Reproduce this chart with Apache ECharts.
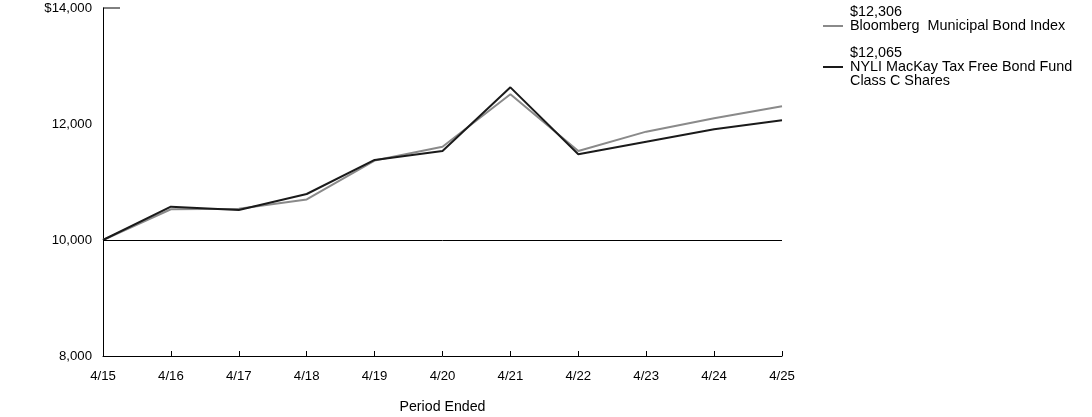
<!DOCTYPE html>
<html>
<head>
<meta charset="utf-8">
<script src="https://cdn.jsdelivr.net/npm/echarts@6/dist/echarts.min.js"></script>
<style>
html,body{margin:0;padding:0;background:#fff;}
#chart{width:1092px;height:417px;}
</style>
</head>
<body>
<div id="chart"></div>
<script>
var categories = ['4/15','4/16','4/17','4/18','4/19','4/20','4/21','4/22','4/23','4/24','4/25'];
var indexValues = [10000, 10530, 10540, 10700, 11370, 11609, 12512, 11534, 11868, 12098, 12306];
var fundValues  = [10000, 10574, 10517, 10793, 11380, 11534, 12632, 11477, 11695, 11908, 12065];
var indexName = 'Bloomberg  Municipal Bond Index';
var fundName = 'NYLI MacKay Tax Free Bond Fund\nClass C Shares';
var indexEnd = '$12,306';
var fundEnd = '$12,065';
var yTickLabels = {14000:'$14,000', 12000:'12,000', 10000:'10,000', 8000:'8,000'};

var FONT = 'Liberation Sans, Arial, sans-serif';
var chart = echarts.init(document.getElementById('chart'));
chart.setOption({
  animation: false,
  grid: {left: 103, right: 310, top: 8, bottom: 61, containLabel: false, outerBoundsMode: 'none'},
  legend: {
    orient: 'vertical',
    left: 823, top: 5, padding: 0,
    itemWidth: 20, itemHeight: 2, itemGap: -1,
    icon: 'rect',
    textStyle: {fontFamily: FONT, fontSize: 14.4, color: '#000', lineHeight: 14, padding: [0,0,0,2]},
    data: [indexName, fundName],
    formatter: function(name){
      if (name === indexName) return indexEnd + '\n' + indexName + '\n ';
      return fundEnd + '\n' + fundName;
    }
  },
  xAxis: {
    type: 'category',
    data: categories,
    boundaryGap: false,
    name: 'Period Ended',
    nameLocation: 'middle',
    nameGap: 44,
    nameTextStyle: {fontFamily: FONT, fontSize: 14.2, color: '#000'},
    axisLine: {lineStyle: {color: '#000', width: 1}},
    axisTick: {inside: true, length: 5, lineStyle: {color: '#000'}},
    axisLabel: {fontFamily: FONT, fontSize: 13.2, color: '#000', margin: 14},
    splitLine: {show: false}
  },
  yAxis: {
    type: 'value',
    min: 8000, max: 14000, interval: 2000,
    axisLine: {show: true, lineStyle: {color: '#000', width: 1}},
    axisTick: {show: false},
    splitLine: {show: false},
    axisLabel: {fontFamily: FONT, fontSize: 13.2, color: '#000', margin: 11,
      formatter: function(v){ return yTickLabels[v] || ''; }}
  },
  series: [
    {
      name: indexName, type: 'line', data: indexValues,
      symbol: 'none', lineStyle: {color: '#8a8a8a', width: 2}, itemStyle: {color: '#8a8a8a'},
      markLine: {symbol: 'none', silent: true, label: {show: false},
        lineStyle: {color: '#000', width: 1, type: 'solid'},
        data: [{yAxis: 10000}]}
    },
    {
      name: fundName, type: 'line', data: fundValues,
      symbol: 'none', lineStyle: {color: '#1a1a1a', width: 2}, itemStyle: {color: '#1a1a1a'}
    }
  ]
});
var p = chart.convertToPixel({xAxisIndex:0, yAxisIndex:0}, [0, 14000]);
chart.setOption({graphic: [{type:'line', shape:{x1:p[0], y1:p[1], x2:p[0]+17, y2:p[1]}, style:{stroke:'#000', lineWidth:1}}]});
</script>
</body>
</html>
